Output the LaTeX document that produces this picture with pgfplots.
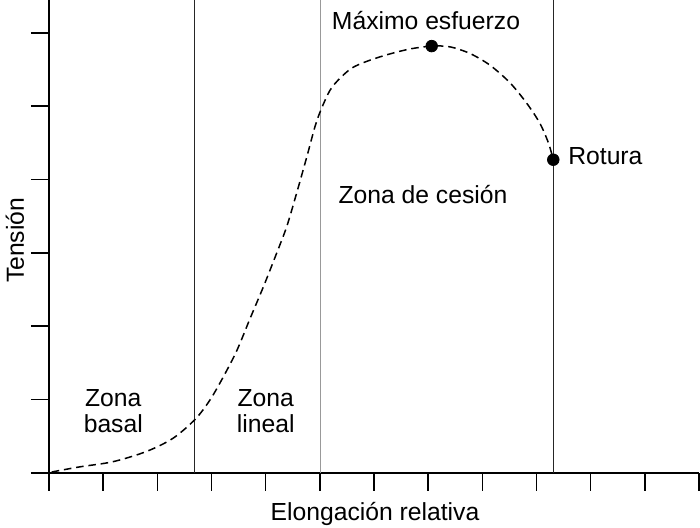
\documentclass[border=0pt]{standalone}
\usepackage{pgfplots}
\pgfplotsset{compat=1.18}
\usepackage{fontspec}
\setmainfont{Liberation Sans}
\begin{document}
\begin{tikzpicture}[font=\fontsize{12.35}{14}\selectfont]
\begin{axis}[
  x=27.083pt, y=36.65pt,
  xmin=0, xmax=12, ymin=0, ymax=6.449,
  axis lines*=left,
  axis line style={line width=0.8pt, black},
  xtick={0,...,12}, ytick={0,...,6},
  xticklabels={}, yticklabels={},
  tick align=outside,
  major tick length=9pt,
  every tick/.style={line width=0.8pt, black},
  clip=false,
]
% zone separators
\addplot[black!85, line width=0.5pt] coordinates {(2.695,0) (2.695,6.449)};
\addplot[black!40, line width=0.6pt] coordinates {(5.012,0) (5.012,6.449)};
\addplot[black!85, line width=0.5pt] coordinates {(9.313,0) (9.313,6.449)};
% stress-strain curve
\addplot[black, line width=0.75pt, dash pattern=on 3.8pt off 2.4pt, smooth, tension=0.5] coordinates {
(0.05,0.01) (0.57,0.08) (1.18,0.15) (1.80,0.29) (2.29,0.47) (2.70,0.73)
(2.97,0.99) (3.22,1.31) (3.47,1.67) (3.71,2.10) (3.96,2.54) (4.20,2.99)
(4.39,3.36) (4.57,3.81) (4.76,4.31) (4.91,4.72) (5.02,4.95) (5.19,5.22)
(5.37,5.38) (5.59,5.52) (5.86,5.61) (6.23,5.70) (6.66,5.78) (7.065,5.82)
(7.40,5.81) (7.77,5.72) (8.14,5.56) (8.51,5.32) (8.82,5.04) (9.06,4.77)
(9.22,4.50) (9.31,4.27)};
\addplot[only marks, mark=*, mark size=2.9pt, black] coordinates {(7.065,5.82) (9.31,4.27)};
% texts
\node[anchor=base] at (axis cs:6.96,6.049) {Máximo esfuerzo};
\node[anchor=base west, inner sep=0pt] at (axis cs:9.58,4.198) {Rotura};
\node[anchor=base] at (axis cs:6.904,3.675) {Zona de cesión};
\node[anchor=base] at (axis cs:1.187,0.910) {Zona};
\node[anchor=base] at (axis cs:1.187,0.542) {basal};
\node[anchor=base] at (axis cs:4.002,0.910) {Zona};
\node[anchor=base] at (axis cs:4.002,0.542) {lineal};
\node[anchor=base] at ([yshift=-23.65pt]axis cs:6.018,0) {Elongación relativa};
\node[anchor=base, rotate=90] at ([xshift=-12.5pt]axis cs:0,3.17) {Tensión};
\end{axis}
\pgfresetboundingbox
\path (-24.5pt,-27.15pt) rectangle (325.5pt,236.35pt);
\end{tikzpicture}
\end{document}
